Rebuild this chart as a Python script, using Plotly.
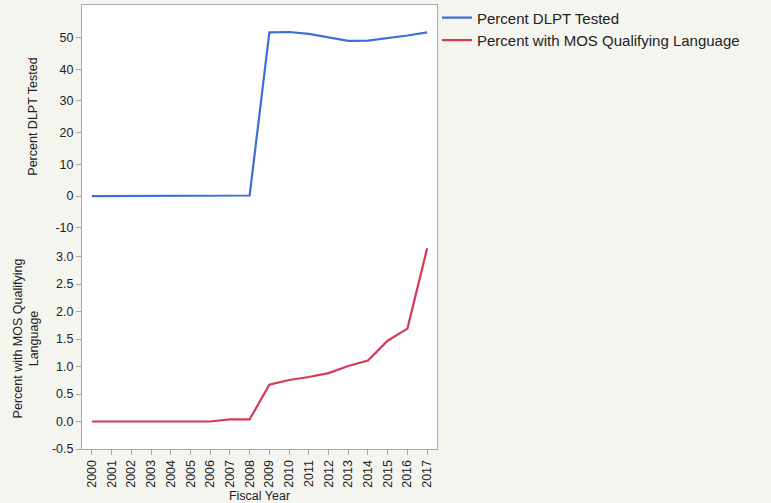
import plotly.graph_objects as go
from plotly.subplots import make_subplots

years = list(range(2000, 2018))
year_labels = [str(y) for y in years]
dlpt_tested = [0, 0, 0, 0, 0, 0, 0, 0, 0.2, 51.6, 51.7, 51.1, 49.9, 48.9, 49.0, 49.7, 50.6, 51.6]
mos_qualifying = [0, 0, 0, 0, 0, 0, 0, 0.04, 0.04, 0.67, 0.755, 0.81, 0.88, 1.01, 1.11, 1.47, 1.69, 3.15]
top_ticks = [-10, 0, 10, 20, 30, 40, 50]
bottom_ticks = [-0.5, 0.0, 0.5, 1.0, 1.5, 2.0, 2.5, 3.0]

BLUE = "#3d6fd6"
RED = "#d43a56"
GRAY = "#a8a8a8"
FONT = "Liberation Sans, Arial, sans-serif"

fig = make_subplots(rows=2, cols=1, shared_xaxes=True, vertical_spacing=0.0)

fig.add_trace(go.Scatter(x=year_labels, y=dlpt_tested, mode="lines",
                         line=dict(color=BLUE, width=2.2), name="Percent DLPT Tested"),
              row=1, col=1)
fig.add_trace(go.Scatter(x=year_labels, y=mos_qualifying, mode="lines",
                         line=dict(color=RED, width=2.2), name="Percent with MOS Qualifying Language"),
              row=2, col=1)

axis_common = dict(showgrid=False, zeroline=False, showline=True, linecolor=GRAY, linewidth=1,
                   tickcolor=GRAY, ticklen=5, tickfont=dict(size=12.5, color="#222"),
                   automargin=False)

fig.update_layout(
    width=771, height=503,
    paper_bgcolor="#f5f5f0", plot_bgcolor="white",
    margin=dict(l=82, r=334, t=5, b=54, autoexpand=False),
    font=dict(family=FONT, size=12, color="#222"),
    showlegend=True,
    legend=dict(x=1.0, xanchor="left", y=1.008, yanchor="top", bgcolor="rgba(0,0,0,0)",
                font=dict(size=15, color="#222"), tracegroupgap=0, itemwidth=30),
)

fig.update_xaxes(row=1, col=1, showgrid=False, zeroline=False, showline=True, linecolor=GRAY,
                 side="top", ticks="", showticklabels=False, type="category",
                 range=[-0.5, 17.5], automargin=False)
fig.update_xaxes(row=2, col=1, **axis_common, ticks="outside", type="category",
                 tickangle=-90, range=[-0.5, 17.5],
                 title=dict(text="Fiscal Year", font=dict(size=12.5), standoff=6))

fig.update_yaxes(row=1, col=1, **axis_common, ticks="outside", mirror=True,
                 range=[-10.05, 60.2], tickvals=top_ticks, ticktext=[str(v) for v in top_ticks],
                 domain=[0.4977, 1.0],
                 title=dict(text="Percent DLPT Tested", font=dict(size=12.5), standoff=15))
fig.update_yaxes(row=2, col=1, **axis_common, ticks="outside", mirror=True,
                 range=[-0.5, 3.52], tickvals=bottom_ticks, ticktext=[f"{v:.1f}" for v in bottom_ticks],
                 domain=[0.0, 0.4977],
                 title=dict(text="Percent with MOS Qualifying<br>Language", font=dict(size=12.5), standoff=10))

fig.write_html("out.html", config={"displayModeBar": False},
               post_script="document.body.style.margin='0';document.body.style.padding='0';")
